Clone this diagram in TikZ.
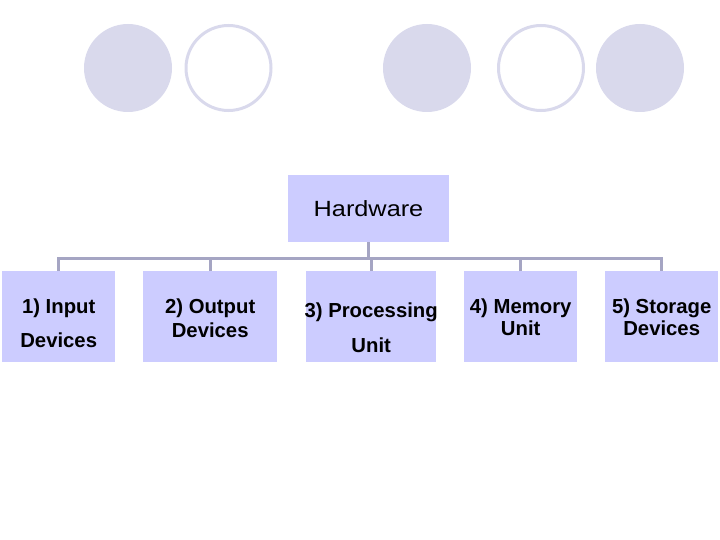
\documentclass[tikz,border=0pt]{standalone}
\usepackage{fontspec}
\setmainfont{Liberation Sans}
\newfontfamily\hwfont[FakeStretch=1.15]{Liberation Sans}
\newfontfamily\boxfont{Liberation Sans}
\definecolor{circfill}{RGB}{217,217,236}
\definecolor{boxfill}{RGB}{204,204,255}
\definecolor{linecol}{RGB}{165,165,195}
\tikzset{
  x=1pt,y=1pt,
  fcirc/.style={circle,fill=circfill,minimum size=88pt,inner sep=0pt},
  ocirc/.style={circle,draw=circfill,line width=3pt,minimum size=85pt,inner sep=0pt},
  box/.style={fill=boxfill,inner sep=0pt,anchor=north west},
  btext/.style={font=\boxfont\fontsize{20.3}{20.3}\selectfont\bfseries,anchor=base,inner sep=0pt},
  conn/.style={draw=linecol,line width=3pt}
}
\begin{document}
\begin{tikzpicture}
\useasboundingbox (0,0) rectangle (720,-540);
% circles
\node[fcirc] (c1) at (128,-68) {};
\node[ocirc] (c2) at (228.5,-68) {};
\node[fcirc] (c3) at (427,-68) {};
\node[ocirc] (c4) at (541,-68) {};
\node[fcirc] (c5) at (640,-68) {};
% hardware box
\node[box,minimum width=161pt,minimum height=67pt] (hw) at (288,-175) {};
\node[font=\hwfont\fontsize{22}{22}\selectfont,anchor=base,inner sep=0pt] (hwt) at (368.5,-217) {Hardware};
% children
\node[box,minimum width=113pt,minimum height=91pt] (b1) at (2,-271) {};
\node[box,minimum width=134pt,minimum height=91pt] (b2) at (143,-271) {};
\node[box,minimum width=130pt,minimum height=91pt] (b3) at (306,-271) {};
\node[box,minimum width=113pt,minimum height=91pt] (b4) at (464,-271) {};
\node[box,minimum width=113pt,minimum height=91pt] (b5) at (605,-271) {};
% texts
\node[btext] (t1a) at (b1.center |- 0,-313) {1) Input};
\node[btext] (t1b) at (b1.center |- 0,-347) {Devices};
\node[btext] (t2a) at (b2.center |- 0,-313) {2) Output};
\node[btext] (t2b) at (b2.center |- 0,-337) {Devices};
\node[btext] (t3a) at (b3.center |- 0,-317) {3) Processing};
\node[btext] (t3b) at (b3.center |- 0,-352) {Unit};
\node[btext] (t4a) at (b4.center |- 0,-313) {4) Memory};
\node[btext] (t4b) at (b4.center |- 0,-335) {Unit};
\node[btext] (t5a) at (b5.center |- 0,-313) {5) Storage};
\node[btext] (t5b) at (b5.center |- 0,-335) {Devices};
% connectors
\coordinate (bar) at (0,-258);
\draw[conn] (hw.south) -- (hw.south |- bar);
\draw[conn] (b1.north) -- (b1.north |- bar) -- (b5.north |- bar) -- (b5.north);
\draw[conn] (b2.north) -- (b2.north |- bar);
\draw[conn] (b3.north) -- (b3.north |- bar);
\draw[conn] (b4.north) -- (b4.north |- bar);
\end{tikzpicture}
\end{document}
